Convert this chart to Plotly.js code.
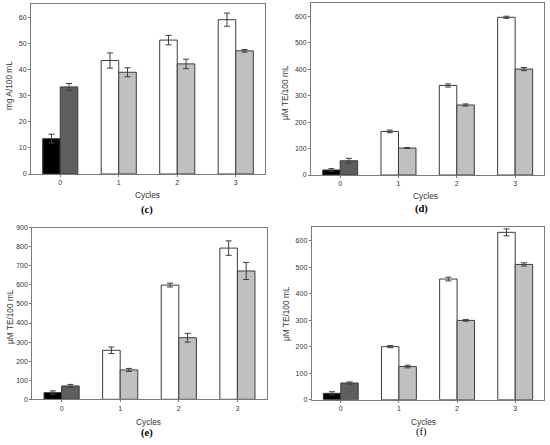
<!DOCTYPE html>
<html>
<head>
<meta charset="utf-8">
<script src="https://cdn.plot.ly/plotly-3.0.1.min.js"></script>
<style>html,body{margin:0;padding:0;background:#fff;}#chart{width:550px;height:445px;}</style>
</head>
<body>
<div id="chart"></div>
<script>
// Categories (cycles)
var cycles = [0, 1, 2, 3];
var cycleLabels = ['0', '1', '2', '3'];

// Panel (c): mg A/100 mL
var cFirst = [13.5, 43.4, 51.2, 59.0];
var cFirstErr = [1.7, 2.9, 1.8, 2.5];
var cSecond = [33.3, 38.9, 42.1, 47.1];
var cSecondErr = [1.3, 1.7, 1.8, 0.5];

// Panel (d): µM TE/100 mL
var dFirst = [19, 165, 339, 597];
var dFirstErr = [5, 5, 6, 4];
var dSecond = [54, 102, 265, 401];
var dSecondErr = [9, 2, 4, 6];

// Panel (e): µM TE/100 mL
var eFirst = [35, 257, 599, 793];
var eFirstErr = [9, 17, 10, 38];
var eSecond = [70, 154, 323, 673];
var eSecondErr = [8, 8, 23, 45];

// Panel (f): µM TE/100 mL
var fFirst = [24, 200, 455, 631];
var fFirstErr = [6, 4, 7, 13];
var fSecond = [63, 125, 299, 510];
var fSecondErr = [4, 5, 3, 6];

var firstColors = ['#000000', '#ffffff', '#ffffff', '#ffffff'];
var secondColors = ['#5e5e5e', '#c0c0c0', '#c0c0c0', '#c0c0c0'];

var panels = [
  {first: cFirst, fe: cFirstErr, second: cSecond, se: cSecondErr, xa: 'x', ya: 'y'},
  {first: dFirst, fe: dFirstErr, second: dSecond, se: dSecondErr, xa: 'x2', ya: 'y2'},
  {first: eFirst, fe: eFirstErr, second: eSecond, se: eSecondErr, xa: 'x3', ya: 'y3'},
  {first: fFirst, fe: fFirstErr, second: fSecond, se: fSecondErr, xa: 'x4', ya: 'y4'}
];

var traces = [];
panels.forEach(function(p) {
  traces.push({
    type: 'bar', x: cycles, y: p.first, xaxis: p.xa, yaxis: p.ya,
    marker: {color: firstColors, line: {color: '#3c3c3c', width: 1}},
    error_y: {type: 'data', array: p.fe, visible: true, color: '#3c3c3c', thickness: 1, width: 3},
    showlegend: false, hoverinfo: 'none'
  });
  traces.push({
    type: 'bar', x: cycles, y: p.second, xaxis: p.xa, yaxis: p.ya,
    marker: {color: secondColors, line: {color: '#3c3c3c', width: 1}},
    error_y: {type: 'data', array: p.se, visible: true, color: '#3c3c3c', thickness: 1, width: 3},
    showlegend: false, hoverinfo: 'none'
  });
});

var tickFont = {family: 'Liberation Sans, Arial, sans-serif', size: 7, color: '#333'};
function xax(dom, anchor) {
  return {domain: dom, anchor: anchor, range: [-0.5, 3.5], tickvals: cycles, ticktext: cycleLabels,
    showline: true, mirror: true, linecolor: '#7a7a7a', linewidth: 1, ticks: 'outside', ticklen: 2,
    tickcolor: '#7a7a7a', showgrid: false, zeroline: false, tickfont: tickFont, fixedrange: true};
}
function yax(dom, anchor, range, dtick) {
  return {domain: dom, anchor: anchor, range: range, dtick: dtick, tick0: 0,
    showline: true, mirror: true, linecolor: '#7a7a7a', linewidth: 1, ticks: 'outside', ticklen: 2,
    tickcolor: '#7a7a7a', showgrid: false, zeroline: false, tickfont: tickFont, fixedrange: true};
}

var titleFont = {family: 'Liberation Sans, Arial, sans-serif', size: 8.3, color: '#333'};
var labelFont = {family: 'Liberation Serif, Times New Roman, serif', size: 10.5, color: '#000'};
function ann(text, x, y, font, angle) {
  return {text: text, x: x / 550, y: 1 - y / 445, xref: 'paper', yref: 'paper',
    showarrow: false, font: font, textangle: angle || 0, xanchor: 'center', yanchor: 'middle'};
}

var layout = {
  width: 550, height: 445,
  margin: {l: 0, r: 0, t: 0, b: 0},
  paper_bgcolor: '#ffffff', plot_bgcolor: '#ffffff',
  barmode: 'group', bargap: 0.4, bargroupgap: 0,
  xaxis: xax([31/550, 265/550], 'y'),
  yaxis: yax([1 - 174/445, 1 - 4/445], 'x', [0, 65], 10),
  xaxis2: xax([311/550, 544.3/550], 'y2'),
  yaxis2: yax([1 - 175/445, 1 - 3.3/445], 'x2', [0, 650], 100),
  xaxis3: xax([32.3/550, 266.7/550], 'y3'),
  yaxis3: yax([1 - 399.3/445, 1 - 227.7/445], 'x3', [0, 900], 100),
  xaxis4: xax([311.7/550, 544.3/550], 'y4'),
  yaxis4: yax([1 - 399.7/445, 1 - 227.3/445], 'x4', [0, 650], 100),
  annotations: [
    ann('Cycles', 147, 195, titleFont),
    ann('Cycles', 425, 196, titleFont),
    ann('Cycles', 148, 422, titleFont),
    ann('Cycles', 423, 422, titleFont),
    ann('mg A/100 mL', 9, 86, titleFont, -90),
    ann('μM TE/100 mL', 285, 93, titleFont, -90),
    ann('μM TE/100 mL', 10, 317, titleFont, -90),
    ann('μM TE/100 mL', 286, 314, titleFont, -90),
    ann('<b>(c)</b>', 147, 210, labelFont),
    ann('<b>(d)</b>', 421, 209, labelFont),
    ann('<b>(e)</b>', 147, 433, labelFont),
    ann('(f)', 421, 432, labelFont)
  ]
};

Plotly.newPlot('chart', traces, layout, {displayModeBar: false, staticPlot: true});
</script>
</body>
</html>
